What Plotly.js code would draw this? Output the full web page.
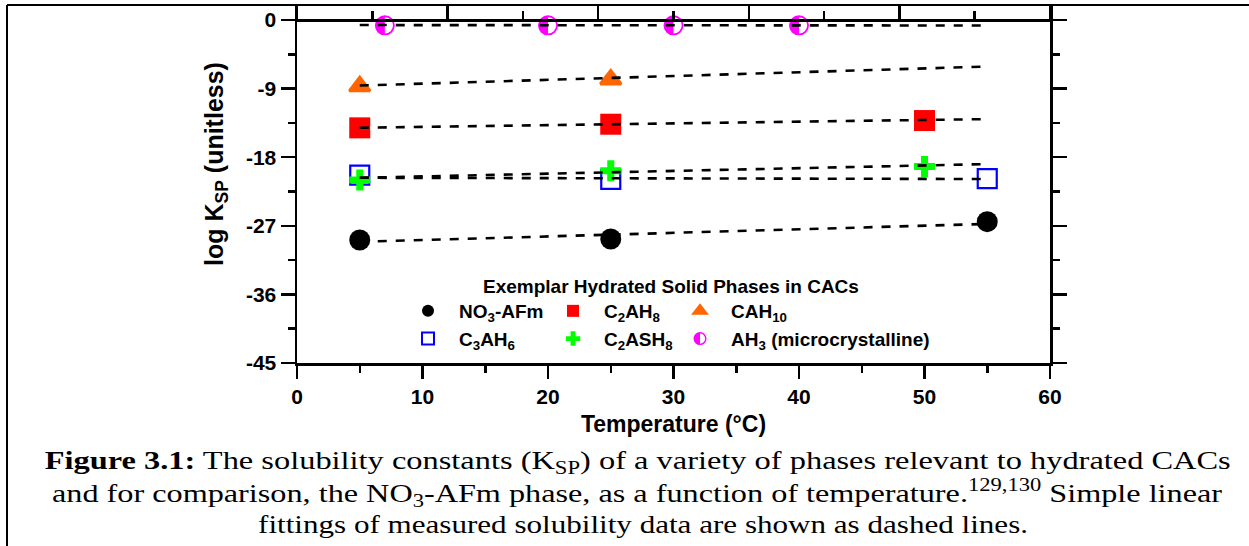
<!DOCTYPE html>
<html>
<head>
<meta charset="utf-8">
<script src="https://cdn.plot.ly/plotly-3.0.1.min.js"></script>
<style>
  html, body { margin: 0; padding: 0; background: #ffffff; }
  #chart { width: 1249px; height: 546px; }
</style>
</head>
<body>
<div id="chart"></div>
<script>
// log Ksp of hydrated calcium-aluminate-cement phases versus temperature,
// with the linear fits of each phase drawn as dashed lines.

// Phase labels
const nameNO3 = 'NO<sub>3</sub>-AFm';
const nameC3AH6 = 'C<sub>3</sub>AH<sub>6</sub>';
const nameC2AH8 = 'C<sub>2</sub>AH<sub>8</sub>';
const nameC2ASH8 = 'C<sub>2</sub>ASH<sub>8</sub>';
const nameCAH10 = 'CAH<sub>10</sub>';
const nameAH3 = 'AH<sub>3</sub> (microcrystalline)';

// Measured points: temperature (°C) and log Ksp
const tNO3 = [5, 25, 55];
const kNO3 = [-28.86, -28.73, -26.46];
const tC2AH8 = [5, 25, 50];
const kC2AH8 = [-14.15, -13.67, -13.19];
const tCAH10 = [5, 25];
const kCAH10 = [-8.7, -7.8];
const tC3AH6 = [5, 25, 55];
const kC3AH6 = [-20.34, -20.9, -20.8];
const tC2ASH8 = [5, 25, 50];
const kC2ASH8 = [-21.0, -19.79, -19.22];
const tAH3 = [7, 20, 30, 40];
const kAH3 = [-0.7, -0.7, -0.7, -0.7];

// Linear fits, evaluated at the ends of the fitted temperature span
const fitT = [5, 55];
const fitNO3 = [-29.1, -26.75];
const fitC2AH8 = [-14.13, -13.0];
const fitCAH10 = [-8.6, -6.1];
const fitC3AH6 = [-20.7, -20.86];
const fitC2ASH8 = [-20.7, -18.9];
const fitAH3 = [-0.66, -0.72];

// Axis ticks
const xRange = [0, 60];
const yRange = [-45, 1.97];
const yTickVals = [0, -9, -18, -27, -36, -45];
const yTickText = ['0', '-9', '-18', '-27', '-36', '-45'];

// Caption
const captionLines = [
  '<b>Figure 3.1:</b> The solubility constants (K<sub>SP</sub>) of a variety of phases relevant to hydrated CACs',
  'and for comparison, the NO<sub>3</sub>-AFm phase, as a function of temperature.<sup>129,130</sup> Simple linear',
  'fittings of measured solubility data are shown as dashed lines.'
];

const AXC = '#000000';
const SANS = 'Liberation Sans, Arial, sans-serif';
const SERIF = 'Liberation Serif, Times New Roman, serif';

function pointTrace(name, x, y, marker, legend) {
  return {
    type: 'scatter', mode: 'markers', name: name, x: x, y: y,
    marker: marker, legend: legend, hoverinfo: 'x+y'
  };
}

const data = [
  pointTrace(nameNO3, tNO3, kNO3, {symbol: 'circle', size: 21, color: '#000000'}, 'legend'),
  pointTrace(nameC3AH6, tC3AH6, kC3AH6, {symbol: 'square-open', size: 19, color: '#0000ff', line: {width: 2.2, color: '#0000ff'}}, 'legend'),
  pointTrace(nameC2AH8, tC2AH8, kC2AH8, {symbol: 'square', size: 21, color: '#ff0000'}, 'legend2'),
  pointTrace(nameC2ASH8, tC2ASH8, kC2ASH8, {symbol: 'cross', size: 17.5, color: '#00ff00'}, 'legend2'),
  pointTrace(nameCAH10, tCAH10, kCAH10, {symbol: 'triangle-up', size: 18, color: '#ff6600', line: {width: 3, color: '#ff6600'}}, 'legend3'),
  pointTrace(nameAH3, tAH3, kAH3, {symbol: 'circle', size: 20, color: '#ff00ff', line: {width: 0}}, 'legend3')
];

// Fit lines sit on the overlaid top axis (same 0-60 scale) so they draw above the markers
[fitNO3, fitC2AH8, fitCAH10, fitC3AH6, fitC2ASH8, fitAH3].forEach(function (fy) {
  data.push({
    type: 'scatter', mode: 'lines', x: fitT, y: fy, xaxis: 'x2', yaxis: 'y',
    line: {color: '#000000', width: 2.6, dash: '9px,9px'},
    showlegend: false, hoverinfo: 'skip'
  });
});

const yZeroPaper = (0 - yRange[0]) / (yRange[1] - yRange[0]);

const W = 1249, H = 546, ML = 297, MR = 199, MT = 5, MB = 183;
const plotW = W - ML - MR, plotH = H - MT - MB;
function px2paperX(px) { return (px - ML) / plotW; }
function px2paperY(py) { return (H - MB - py) / plotH; }

const legendCommon = {
  orientation: 'v', bgcolor: 'rgba(0,0,0,0)', borderwidth: 0,
  font: {family: SANS, size: 19, color: '#000000', weight: 'bold'},
  itemsizing: 'constant', itemwidth: 52, tracegroupgap: 0,
  xanchor: 'left', yanchor: 'top', y: px2paperY(292)
};

const annotations = [
  {
    text: 'Exemplar Hydrated Solid Phases in CACs', showarrow: false,
    xref: 'paper', yref: 'paper', x: px2paperX(671), y: px2paperY(286),
    xanchor: 'center', yanchor: 'middle',
    font: {family: SANS, size: 19, color: '#000000', weight: 'bold'}
  },
  {
    text: 'log K<sub>SP</sub> (unitless)', showarrow: false, textangle: -90,
    xref: 'paper', yref: 'paper', x: px2paperX(216), y: px2paperY(164),
    xanchor: 'center', yanchor: 'middle',
    font: {family: SANS, size: 25, color: '#000000', weight: 'bold'}
  }
];
// Caption lines: Times at 26 px, set to the printed line widths
const captionY = [462, 493, 524];
const captionCenterX = [637, 637, 643];
const captionWidth = [1186, 1170, 770];
const captionStart = annotations.length;
captionLines.forEach(function (line, i) {
  annotations.push({
    text: line, showarrow: false, xref: 'paper', yref: 'paper',
    x: px2paperX(captionCenterX[i]), y: px2paperY(captionY[i]), xanchor: 'center', yanchor: 'middle',
    font: {family: SERIF, size: 26, color: '#000000'}
  });
});

const layout = {
  width: W, height: H,
  margin: {l: ML, r: MR, t: MT, b: MB, pad: 0},
  paper_bgcolor: '#ffffff', plot_bgcolor: '#ffffff',
  font: {family: SANS, color: '#000000'},
  showlegend: true,
  legend: Object.assign({}, legendCommon, {x: px2paperX(397)}),
  legend2: Object.assign({}, legendCommon, {x: px2paperX(542)}),
  legend3: Object.assign({}, legendCommon, {x: px2paperX(669)}),
  xaxis: {
    range: xRange, tickmode: 'linear', tick0: 0, dtick: 10,
    ticks: 'outside', ticklen: 13, tickwidth: 2.5, tickcolor: AXC,
    minor: {tickmode: 'linear', tick0: 0, dtick: 5, ticks: 'outside', ticklen: 7, tickwidth: 2.5, tickcolor: AXC},
    showline: true, linewidth: 2.5, linecolor: AXC, mirror: false,
    showgrid: false, zeroline: false,
    tickfont: {family: SANS, size: 21, color: AXC, weight: 'bold'},
    title: {text: 'Temperature (°C)', standoff: 9, font: {family: SANS, size: 23, color: AXC, weight: 'bold'}}
  },
  xaxis2: {
    overlaying: 'x', side: 'top', anchor: 'free', position: yZeroPaper,
    range: xRange, tickmode: 'linear', tick0: 0, dtick: 12,
    ticks: 'outside', ticklen: 15, tickwidth: 2.5, tickcolor: AXC,
    minor: {tickmode: 'linear', tick0: 0, dtick: 6, ticks: 'outside', ticklen: 8, tickwidth: 2.5, tickcolor: AXC},
    showline: true, linewidth: 2.5, linecolor: AXC,
    showticklabels: false, showgrid: false, zeroline: false
  },
  yaxis: {
    range: yRange, tickmode: 'array', tickvals: yTickVals, ticktext: yTickText,
    ticks: 'outside', ticklen: 14, tickwidth: 2.5, tickcolor: AXC,
    minor: {tickmode: 'linear', tick0: 0, dtick: 4.5, ticks: 'outside', ticklen: 7, tickwidth: 2.5, tickcolor: AXC},
    showline: true, linewidth: 2.5, linecolor: AXC, mirror: 'ticks',
    showgrid: false, zeroline: false,
    tickfont: {family: SANS, size: 21, color: AXC, weight: 'bold'}
  },
  annotations: annotations,
  shapes: [
    {type: 'line', xref: 'paper', yref: 'paper', x0: px2paperX(7), x1: px2paperX(1252), y0: px2paperY(5), y1: px2paperY(5), line: {color: '#000000', width: 2}},
    {type: 'line', xref: 'paper', yref: 'paper', x0: px2paperX(7), x1: px2paperX(7), y0: px2paperY(5), y1: px2paperY(550), line: {color: '#000000', width: 2}}
  ]
};

// Half-filled circle: left half solid, right half an outline ring
function halfDisc(R, w) {
  const r = R - w;
  return 'M0,' + (-R) + 'A' + R + ',' + R + ' 0 0 0 0,' + R + 'Z' +
         'M0,' + (-R) + 'A' + R + ',' + R + ' 0 0 1 0,' + R +
         'L0,' + r + 'A' + r + ',' + r + ' 0 0 0 0,' + (-r) + 'Z';
}
function traceOf(el) {
  const d = el.__data__;
  if (!d) return null;
  if (d.trace) return d.trace;
  if (d[0] && d[0].trace) return d[0].trace;
  if (d[0] && d[0][0] && d[0][0].trace) return d[0][0].trace;
  return null;
}
function finishDrawing(gd) {
  gd.querySelectorAll('.scatterlayer .trace').forEach(function (tr) {
    const t = traceOf(tr);
    if (t && t.name === nameAH3) {
      tr.querySelectorAll('path.point').forEach(function (p) { p.setAttribute('d', halfDisc(10, 1.8)); });
    }
  });
  gd.querySelectorAll('g.traces').forEach(function (tr) {
    const t = traceOf(tr);
    if (t && t.name === nameAH3) {
      tr.querySelectorAll('.legendpoints path').forEach(function (p) { p.setAttribute('d', halfDisc(6.5, 1.4)); });
    }
  });
  // widen the caption lines to their printed measure
  gd.querySelectorAll('g.annotation').forEach(function (g) {
    const idx = +g.getAttribute('data-index');
    const k = idx - captionStart;
    if (k >= 0 && k < captionWidth.length) {
      const txt = g.querySelector('text.annotation-text');
      if (txt) {
        txt.setAttribute('textLength', captionWidth[k]);
        txt.setAttribute('lengthAdjust', 'spacingAndGlyphs');
      }
    }
  });
}

Plotly.newPlot('chart', data, layout, {staticPlot: true, displayModeBar: false}).then(function (gd) {
  finishDrawing(gd);
  gd.on('plotly_afterplot', function () { finishDrawing(gd); });
});
</script>
</body>
</html>
